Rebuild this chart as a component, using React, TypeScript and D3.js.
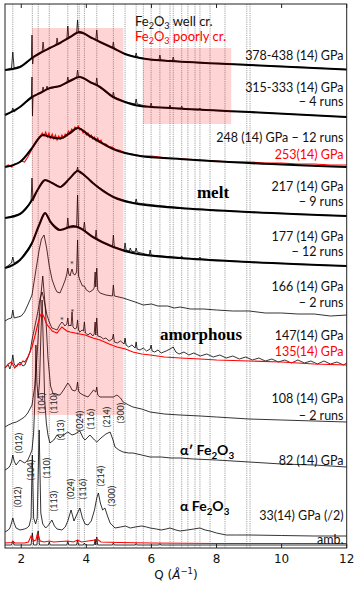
import React from 'react';
import * as d3 from 'd3';

type Pt = [number, number];

// Q in 1/Å, intensity in stacked arbitrary units

// hematite reflection positions (dotted guide lines)
const refPeaks = [1.74, 2.34, 2.52, 2.86, 3.43, 3.73, 3.78, 3.94, 4.32, 4.83, 5.19, 5.53, 5.75, 5.99, 6.26, 6.57, 6.67, 6.93, 7.12, 7.34, 7.49, 7.8, 8.26, 8.93, 9.03];

const xTicks = [2, 4, 6, 8, 10, 12];

// shaded regions [qFrom, qTo, iFrom, iTo]
const shaded: [number, number, number, number][] = [
  [2.33, 5.14, 133, 520],
  [5.74, 8.45, 424, 500],
];

// 378-438 GPa
const fit378: Pt[] = [[1.5, 478], [1.96, 481], [2.33, 490], [2.58, 495], [2.88, 500], [3.19, 505], [3.5, 511], [3.8, 516], [4.11, 511], [4.42, 506], [4.82, 500], [5.19, 494], [5.65, 490], [6.11, 488], [6.57, 487], [9.0, 483], [12, 478.5]];
const raw378: Pt[] = [[1.5, 478], [1.7, 480], [1.74, 496], [1.78, 480], [2.0, 482], [2.2, 486], [2.31, 489], [2.33, 513], [2.35, 484], [2.37, 491], [2.5, 493], [2.64, 496], [2.67, 506], [2.7, 497], [2.9, 500], [3.07, 503], [3.1, 510], [3.13, 504], [3.3, 507], [3.4, 509], [3.43, 522], [3.46, 510], [3.6, 513], [3.7, 515], [3.73, 528], [3.76, 515], [3.95, 514], [4.11, 511], [4.29, 508], [4.32, 518], [4.35, 507], [4.6, 503], [4.8, 500], [4.83, 506], [4.86, 499], [5.2, 494], [5.5, 491], [5.53, 495], [5.56, 491], [6.0, 488], [6.23, 488], [6.26, 493], [6.29, 488], [6.64, 487], [6.67, 491], [6.7, 487], [7.5, 485], [9.0, 483], [10.5, 481], [12, 478.5]];

// 315-333 GPa
const fit315: Pt[] = [[1.5, 433], [1.96, 441], [2.33, 451], [2.58, 455], [2.88, 460], [3.19, 462], [3.43, 466], [3.8, 471], [4.11, 466], [4.42, 461], [4.82, 451], [5.19, 446], [5.65, 442], [6.57, 440], [9.0, 436], [12, 431]];
const raw315: Pt[] = [[1.5, 433], [1.7, 436], [1.74, 440], [1.78, 436], [2.0, 442], [2.2, 448], [2.31, 450], [2.33, 471], [2.345, 432], [2.36, 452], [2.5, 454], [2.64, 456], [2.67, 461], [2.7, 457], [2.76, 458], [2.79, 462], [2.82, 459], [3.1, 461], [3.4, 465], [3.43, 471], [3.46, 466], [3.6, 468], [3.7, 470], [3.73, 478], [3.76, 471], [3.8, 471], [4.0, 468], [4.29, 463], [4.32, 470], [4.35, 462], [4.6, 456], [4.8, 451], [4.83, 456], [4.86, 451], [5.2, 446], [5.5, 444], [5.53, 449], [5.56, 444], [5.96, 441], [5.99, 445], [6.02, 441], [6.54, 440], [6.57, 443], [6.6, 440], [6.9, 439], [6.93, 442], [6.96, 439], [7.46, 438], [7.49, 440], [7.52, 438], [9.0, 436], [12, 431]];

// 248 GPa (black) and 253 GPa (red)
const fit248: Pt[] = [[1.5, 381], [1.96, 386], [2.33, 400], [2.5, 408], [2.67, 413], [2.88, 411], [3.19, 409.5], [3.5, 415], [3.73, 420], [4.11, 412], [4.42, 406], [4.82, 399], [5.19, 395], [5.65, 392], [6.88, 389], [9, 385], [12, 381]];
const red253: Pt[] = [[1.5, 381], [1.6, 383], [1.7, 381], [1.8, 384], [1.9, 385], [2.0, 387], [2.1, 386], [2.2, 391], [2.3, 397], [2.4, 403], [2.5, 409], [2.6, 413], [2.65, 415], [2.7, 412], [2.75, 416], [2.8, 411], [2.85, 415], [2.9, 410], [2.95, 414], [3.0, 409], [3.05, 413], [3.1, 408], [3.15, 412], [3.2, 409], [3.25, 413], [3.3, 410], [3.35, 414], [3.4, 413], [3.45, 417], [3.5, 415], [3.55, 419], [3.6, 417], [3.65, 421], [3.7, 419], [3.75, 422], [3.8, 418], [3.85, 419], [3.9, 415], [3.95, 417], [4.0, 413], [4.05, 415], [4.1, 411], [4.15, 413], [4.2, 409], [4.25, 411], [4.3, 407], [4.35, 410], [4.4, 406], [4.45, 408], [4.5, 404], [4.6, 404], [4.7, 401], [4.8, 401], [4.9, 398], [5.0, 398], [5.2, 395], [5.4, 394], [5.7, 392], [6.0, 392], [6.5, 390], [7.0, 389], [7.5, 388], [8.0, 387], [8.5, 386], [9.0, 386], [9.5, 385], [10, 385], [10.5, 384], [11, 384], [11.5, 383], [12, 383]];

// 217 GPa
const fit217: Pt[] = [[1.5, 330], [1.96, 334], [2.33, 348], [2.5, 358], [2.73, 368], [2.95, 365], [3.19, 361], [3.5, 370], [3.73, 377], [4.0, 371], [4.2, 365], [4.83, 351], [5.43, 345], [6.88, 340], [9, 336], [12, 332]];
const raw217: Pt[] = [[1.5, 330], [1.96, 334], [2.3, 346], [2.33, 370], [2.36, 347], [2.5, 358], [2.73, 368], [2.95, 365], [3.19, 361], [3.5, 370], [3.7, 376], [3.73, 381], [3.76, 376], [4.0, 371], [4.2, 365], [4.83, 351], [5.2, 347], [5.5, 345], [5.53, 349], [5.56, 345], [6.88, 340], [9, 336], [12, 332]];

// 177 GPa
const fit177: Pt[] = [[1.5, 280], [1.96, 288], [2.33, 305], [2.55, 323], [2.73, 335], [2.9, 326], [3.19, 318], [3.6, 322], [3.8, 320], [4.2, 311], [4.83, 301], [5.43, 295], [6.88, 290], [9, 286], [12, 282]];
const raw177: Pt[] = [[1.5, 280], [1.7, 285], [1.74, 291], [1.78, 285], [1.96, 288], [2.33, 305], [2.55, 323], [2.73, 335], [2.9, 326], [3.19, 318], [3.4, 320], [3.43, 330], [3.46, 320], [3.7, 321], [3.73, 353], [3.76, 321], [3.91, 318], [3.94, 326], [3.97, 317], [4.2, 311], [4.27, 309], [4.3, 318], [4.33, 308], [4.8, 301], [4.83, 313], [4.86, 301], [5.16, 298], [5.19, 305], [5.22, 298], [5.32, 297], [5.35, 300], [5.38, 297], [5.5, 296], [5.53, 300], [5.56, 296], [5.93, 293], [5.96, 298], [5.99, 293], [6.88, 290], [6.93, 292], [6.96, 290], [7.46, 289], [7.49, 291], [7.52, 289], [9, 286], [12, 282]];

// 166 GPa
const raw166: Pt[] = [[1.5, 227], [1.6, 229], [1.7, 230], [1.74, 238], [1.78, 230], [1.9, 231], [2.0, 232], [2.1, 236], [2.2, 243], [2.33, 253], [2.45, 278], [2.55, 298], [2.62, 309], [2.7, 313], [2.78, 300], [2.86, 282], [2.95, 268], [3.05, 259], [3.1, 256], [3.19, 255], [3.28, 262], [3.35, 268], [3.4, 274], [3.43, 280], [3.46, 274], [3.5, 272], [3.53, 276], [3.56, 279], [3.6, 274], [3.65, 273], [3.7, 276], [3.73, 308], [3.76, 272], [3.8, 268], [3.88, 262], [3.94, 262], [4.0, 258], [4.1, 256], [4.2, 258], [4.24, 260], [4.27, 276], [4.29, 261], [4.32, 280], [4.35, 258], [4.42, 255], [4.6, 253], [4.8, 252], [4.83, 263], [4.86, 252], [5.13, 250], [5.5, 246], [5.75, 243], [6.0, 244], [6.2, 242], [6.5, 242], [6.7, 240], [6.88, 241], [7.2, 239], [7.6, 239], [8, 238], [8.5, 237], [9, 237], [9.5, 235], [10, 235], [10.5, 234], [11, 234], [11.5, 232], [12, 233]];

// 147 GPa (black) and 135 GPa (red)
const raw147: Pt[] = [[1.5, 180], [1.6, 183], [1.65, 179], [1.7, 184], [1.74, 193], [1.78, 184], [1.85, 181], [1.96, 186], [2.05, 182], [2.11, 183], [2.2, 190], [2.27, 196], [2.33, 208], [2.42, 222], [2.52, 238], [2.58, 250], [2.64, 256], [2.7, 248], [2.79, 233], [2.86, 226], [2.94, 220], [3.02, 219], [3.1, 218], [3.18, 223], [3.25, 226], [3.3, 224], [3.34, 222], [3.4, 224], [3.43, 230], [3.46, 222], [3.5, 223], [3.53, 222], [3.56, 236], [3.59, 221], [3.65, 219], [3.7, 220], [3.73, 228], [3.76, 218], [3.8, 216], [3.87, 218], [3.91, 217], [3.94, 226], [3.97, 215], [4.05, 213], [4.12, 215], [4.2, 212], [4.24, 214], [4.27, 226], [4.29, 213], [4.32, 230], [4.35, 212], [4.45, 211], [4.52, 209], [4.6, 210], [4.7, 207], [4.8, 209], [4.83, 214], [4.86, 206], [4.95, 205], [5.05, 207], [5.16, 204], [5.19, 210], [5.22, 203], [5.3, 201], [5.4, 203], [5.5, 200], [5.53, 206], [5.56, 199], [5.65, 198], [5.75, 200], [5.85, 197], [5.96, 199], [5.99, 203], [6.02, 197], [6.1, 196], [6.2, 198], [6.3, 195], [6.45, 197], [6.57, 199], [6.67, 201], [6.75, 196], [6.85, 194], [7.0, 196], [7.15, 193], [7.3, 195], [7.5, 192], [7.7, 194], [7.9, 191], [8.1, 193], [8.3, 190], [8.5, 192], [8.7, 189], [8.9, 191], [9.1, 188], [9.3, 190], [9.5, 187], [9.7, 189], [9.9, 186], [10.1, 188], [10.3, 185], [10.5, 188], [10.7, 185], [10.9, 187], [11.1, 184], [11.3, 187], [11.5, 184], [11.7, 186], [11.9, 183], [12, 185]];
const red135: Pt[] = [[1.5, 180], [1.6, 184], [1.7, 186], [1.8, 180], [1.9, 184], [1.96, 183], [2.05, 187], [2.11, 186], [2.2, 191], [2.33, 201], [2.42, 212], [2.5, 223], [2.58, 232], [2.63, 235], [2.7, 231], [2.75, 226], [2.82, 222], [2.88, 220], [2.95, 217], [3.02, 216], [3.1, 215], [3.17, 218], [3.25, 221], [3.32, 219], [3.4, 217], [3.5, 216], [3.65, 215], [3.8, 214], [3.96, 213], [4.2, 210], [4.42, 208], [4.7, 204], [4.94, 201], [5.2, 199], [5.43, 196], [5.7, 194], [5.96, 193], [6.4, 191], [6.88, 190], [7.5, 189], [8, 188], [9, 187], [10, 186], [11, 184], [12, 183]];

// 108 GPa
const raw108: Pt[] = [[1.5, 121], [1.6, 123], [1.74, 125], [1.85, 126], [1.96, 128], [2.1, 131], [2.2, 135], [2.33, 143], [2.42, 163], [2.5, 200], [2.58, 245], [2.66, 272], [2.74, 240], [2.82, 190], [2.9, 162], [2.98, 154], [3.04, 153], [3.19, 153], [3.3, 158], [3.43, 165], [3.5, 162], [3.56, 158], [3.65, 157], [3.7, 159], [3.73, 166], [3.76, 157], [3.8, 155], [3.9, 153], [4.05, 151], [4.15, 155], [4.22, 158], [4.29, 156], [4.32, 161], [4.35, 153], [4.42, 151], [4.6, 151], [4.83, 151], [4.94, 153], [5.05, 150], [5.13, 146], [5.3, 143], [5.43, 141], [5.7, 139], [5.96, 136], [6.4, 134], [6.88, 133], [7.5, 132], [8, 131], [9, 129], [10, 128], [11, 127], [12, 126]];

// 82 GPa (alpha')
const raw82: Pt[] = [[1.5, 78], [1.6, 80], [1.65, 82], [1.7, 86], [1.74, 93], [1.78, 87], [1.84, 83], [1.96, 88], [2.05, 86], [2.11, 85], [2.2, 88], [2.27, 93], [2.33, 98], [2.38, 115], [2.42, 150], [2.45, 203], [2.48, 165], [2.52, 150], [2.56, 165], [2.6, 210], [2.64, 248], [2.68, 200], [2.72, 148], [2.77, 125], [2.82, 113], [2.88, 105], [3.0, 108], [3.1, 113], [3.19, 110], [3.3, 113], [3.43, 116], [3.56, 113], [3.65, 114], [3.8, 117], [3.9, 110], [3.96, 108], [4.11, 113], [4.25, 108], [4.32, 106], [4.45, 110], [4.6, 114], [4.73, 116], [4.82, 108], [4.88, 101], [5.0, 98], [5.13, 96], [5.3, 95], [5.43, 95], [5.7, 93], [5.96, 91], [6.3, 91], [6.6, 90], [6.88, 90], [7.3, 89], [8, 88], [9, 86], [10, 84], [11, 83], [12, 81]];

// 33 GPa (alpha, scaled /2)
const raw33: Pt[] = [[1.5, 16], [1.6, 18], [1.65, 20], [1.7, 25], [1.74, 30], [1.78, 25], [1.84, 20], [1.96, 18], [2.1, 19], [2.17, 20], [2.24, 22], [2.3, 30], [2.34, 93], [2.38, 30], [2.44, 24], [2.49, 30], [2.55, 118], [2.6, 35], [2.66, 24], [2.75, 20], [2.84, 23], [2.94, 28], [3.02, 22], [3.1, 19], [3.25, 18], [3.35, 21], [3.43, 27], [3.53, 38], [3.62, 27], [3.7, 33], [3.8, 40], [3.88, 30], [3.96, 24], [4.05, 23], [4.15, 27], [4.25, 38], [4.32, 50], [4.37, 55], [4.43, 45], [4.5, 38], [4.57, 40], [4.65, 32], [4.73, 25], [4.88, 20], [5.05, 21], [5.2, 22], [5.35, 20], [5.5, 21], [5.7, 22], [5.85, 21], [5.96, 20], [6.15, 19], [6.3, 18], [6.45, 19], [6.57, 20], [6.75, 18], [6.88, 17], [7.1, 18], [7.3, 19], [7.49, 20], [7.65, 18], [7.8, 17], [8.0, 15], [8.3, 13], [8.62, 13], [9, 13], [10, 12.5], [11, 12], [12, 12]];

// ambient
const ambBlack: Pt[] = [[1.5, 3], [1.7, 3], [1.74, 7], [1.78, 3], [2.3, 3], [2.34, 15], [2.38, 3], [2.48, 3], [2.52, 17], [2.56, 3], [2.83, 3], [2.86, 6], [2.89, 3], [3.4, 3], [3.43, 7], [3.46, 3], [3.7, 3], [3.73, 8], [3.76, 3], [3.91, 3], [3.94, 5], [3.97, 3], [4.24, 3], [4.27, 9], [4.29, 3], [4.32, 11], [4.35, 3], [4.8, 3], [4.83, 5], [4.86, 3], [5.5, 3], [5.53, 4.5], [5.56, 3], [6.23, 3], [6.26, 4.5], [6.29, 3], [12, 3]];
const ambRed: Pt[] = [[1.5, 5], [1.7, 5.5], [1.74, 7], [1.8, 5], [2.1, 5], [2.22, 6], [2.3, 12], [2.38, 7], [2.45, 8], [2.5, 15], [2.58, 7], [2.7, 6], [2.86, 7], [3.0, 6], [3.43, 7], [3.6, 6], [3.73, 8], [3.85, 6], [4.27, 8], [4.32, 9], [4.45, 6], [5, 5.5], [6, 5], [8, 4.5], [10, 4.5], [12, 4.5]];

const hkl = ['(012)', '(104)', '(110)', '(113)', '(024)', '(116)', '(214)', '(300)'];

// label layout (px)
const hklPos82: [number, number][] = [[18, 443], [41.5, 403], [53.5, 403], [60.5, 430], [79.5, 421], [90, 419], [106, 417], [120, 413]];
const hklPos33: [number, number][] = [[17.5, 497], [30, 470], [46.5, 468], [53.5, 501], [70.5, 489], [82, 489], [100.5, 476], [111, 496]];

const rightLabels: { t: string; y: number; c?: string }[] = [
  { t: '378-438 (14) GPa', y: 59.5 },
  { t: '315-333 (14) GPa', y: 91.5 },
  { t: '\u2212 4 runs', y: 106 },
  { t: '248 (14) GPa  \u2212 12 runs', y: 141.5 },
  { t: '253(14) GPa', y: 158.5, c: '#ff0000' },
  { t: '217 (14) GPa', y: 191 },
  { t: '\u2212 9 runs', y: 206 },
  { t: '177 (14) GPa', y: 241 },
  { t: '\u2212 12 runs', y: 256 },
  { t: '166 (14) GPa', y: 290.5 },
  { t: '\u2212 2 runs', y: 307 },
  { t: '147(14) GPa', y: 339.5 },
  { t: '135(14) GPa', y: 356, c: '#ff0000' },
  { t: '108 (14) GPa', y: 402.5 },
  { t: '\u2212 2 runs', y: 419.5 },
  { t: '82 (14) GPa', y: 464.5 },
  { t: '33(14) GPa (/2)', y: 519.5 },
  { t: 'amb.', y: 543.5 },
];

const x = d3.scaleLinear().domain([1.5, 12]).range([5, 346.7]);
const y = d3.scaleLinear().domain([0, 544]).range([548, 4]);
const rawLine = d3.line<Pt>().x(d => x(d[0])).y(d => y(d[1]));
const fitLine = d3.line<Pt>().x(d => x(d[0])).y(d => y(d[1])).curve(d3.curveMonotoneX);

const thinSeries = [raw378, raw315, raw217, raw177, raw166, raw147, raw108, raw82, raw33, ambBlack];
const fitSeries = [fit378, fit315, fit248, fit217, fit177];
const redSeries = [red253, red135, ambRed];

const Fe2O3 = ({ sub }: { sub: number }) => (
  <>
    <tspan>Fe</tspan>
    <tspan dy={sub} fontSize="0.7em">2</tspan>
    <tspan dy={-sub}>O</tspan>
    <tspan dy={sub} fontSize="0.7em">3</tspan>
  </>
);

export default function App() {
  const top = y(544);
  const bottom = y(0);
  return (
    <svg width={356} height={591} style={{ position: 'absolute', left: 0, top: 0, background: '#fff' }}>
      {refPeaks.map((q, i) => (
        <line key={i} x1={x(q)} x2={x(q)} y1={top} y2={bottom} stroke="#8c8c8c" strokeWidth={0.8} strokeDasharray="1.2,1" />
      ))}
      {thinSeries.map((s, i) => (
        <path key={i} d={rawLine(s) || ''} fill="none" stroke="#000" strokeWidth={0.8} />
      ))}
      {redSeries.map((s, i) => (
        <path key={i} d={rawLine(s) || ''} fill="none" stroke="#ff0000" strokeWidth={1.1} />
      ))}
      {fitSeries.map((s, i) => (
        <path key={i} d={fitLine(s) || ''} fill="none" stroke="#000" strokeWidth={2.1} />
      ))}
      {shaded.map(([q0, q1, i0, i1], k) => (
        <rect key={k} x={x(q0)} width={x(q1) - x(q0)} y={y(i1)} height={y(i0) - y(i1)} fill="rgba(255,0,0,0.17)" />
      ))}

      {hkl.map((h, i) => (
        <text key={'a' + i} transform={`translate(${hklPos82[i][0]},${hklPos82[i][1]}) rotate(-90)`} textAnchor="middle" dominantBaseline="central" fontFamily="Lato" fontSize={9} fill="#222">{h}</text>
      ))}
      {hkl.map((h, i) => (
        <text key={'b' + i} transform={`translate(${hklPos33[i][0]},${hklPos33[i][1]}) rotate(-90)`} textAnchor="middle" dominantBaseline="central" fontFamily="Lato" fontSize={9} fill="#222">{h}</text>
      ))}
      <g fontFamily="Lato" fontSize={10} fill="#333" textAnchor="middle">
        <text x={72} y={268}>*</text>
        <text x={62} y={324}>*</text>
        <text x={72.5} y={316}>*</text>
      </g>

      <g fontFamily="Lato" fontSize={12.5} textAnchor="end">
        {rightLabels.map((l, i) => (
          <text key={i} x={343.5} y={l.y} fill={l.c || '#111'}>{l.t}</text>
        ))}
      </g>

      <text x={135} y={26} fontFamily="Lato" fontSize={13} fill="#111"><Fe2O3 sub={3} /><tspan dy={-3}> well cr.</tspan></text>
      <text x={135} y={40.5} fontFamily="Lato" fontSize={13} fill="#ff0000"><Fe2O3 sub={3} /><tspan dy={-3}> poorly cr.</tspan></text>

      <text x={213} y={198} textAnchor="middle" fontFamily="Liberation Serif" fontWeight="bold" fontSize={17}>melt</text>
      <text x={201} y={340} textAnchor="middle" fontFamily="Liberation Serif" fontWeight="bold" fontSize={17}>amorphous</text>
      <text x={180} y={455} fontFamily="Lato" fontWeight="bold" fontSize={14}>{"\u03b1\u2032 "}<Fe2O3 sub={3.5} /></text>
      <text x={180} y={511} fontFamily="Lato" fontWeight="bold" fontSize={14}>{"\u03b1 "}<Fe2O3 sub={3.5} /></text>

      <rect x={x(1.5)} y={top} width={x(12) - x(1.5)} height={bottom - top} fill="none" stroke="#222" strokeWidth={1} />
      {xTicks.map(t => (
        <g key={t}>
          <line x1={x(t)} x2={x(t)} y1={bottom} y2={bottom - 4} stroke="#222" strokeWidth={1} />
          <line x1={x(t)} x2={x(t)} y1={top} y2={top + 4} stroke="#222" strokeWidth={1} />
          <text x={x(t)} y={562.5} textAnchor="middle" fontFamily="DejaVu Sans" fontSize={12} fill="#111">{t}</text>
        </g>
      ))}
      <text x={176} y={579} textAnchor="middle" fontFamily="DejaVu Sans" fontSize={12} fill="#111">
        Q (<tspan fontStyle="italic">Å</tspan><tspan dy={-5} fontSize={8.5}>{"\u22121"}</tspan><tspan dy={5}>)</tspan>
      </text>
    </svg>
  );
}
